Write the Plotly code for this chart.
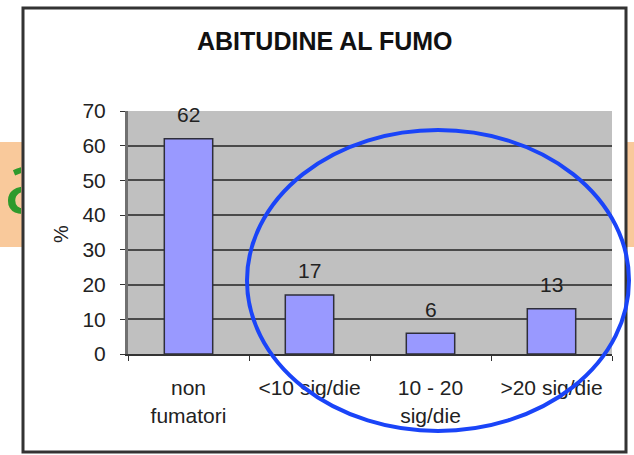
import plotly.graph_objects as go

# Chart data
categories = ["non<br>fumatori", "<10 sig/die", "10 - 20<br>sig/die", ">20 sig/die"]
percentages = [62, 17, 6, 13]
y_ticks = [0, 10, 20, 30, 40, 50, 60, 70]
chart_title = "ABITUDINE AL FUMO"
y_title = "%"

W, H = 634, 455
FONT = "Liberation Sans, Arial, sans-serif"


def px(x):
    return x / W


def py(y):
    return 1 - y / H


# plot-area bounds in pixels
L, R, T, B = 128, 612, 111, 354

fig = go.Figure()

fig.add_trace(go.Bar(
    x=categories,
    y=percentages,
    marker=dict(color="#9999FF", line=dict(color="#2e2e3a", width=1.5)),
    width=0.4,
    hoverinfo="skip",
))

# slide heading letter peeking out on the left, clipped to the margin strip
fig.add_trace(go.Scatter(
    x=[4], y=[H - 191],
    mode="text",
    text=["a"],
    textposition="middle right",
    textfont=dict(family="Open Sans, Liberation Sans, sans-serif", size=86, color="#2f9a2c"),
    cliponaxis=True,
    xaxis="x2", yaxis="y2",
    hoverinfo="skip",
    showlegend=False,
))

shapes = [
    # peach band behind the chart box
    dict(type="rect", xref="paper", yref="paper", layer="below",
         x0=0, x1=1, y0=py(247), y1=py(142),
         fillcolor="#f9c99b", line=dict(width=0)),
    # white chart box with dark frame
    dict(type="rect", xref="paper", yref="paper", layer="below",
         x0=px(23), x1=px(626), y0=py(452), y1=py(8),
         fillcolor="white", line=dict(color="#333333", width=3)),
    # grey plot wall
    dict(type="rect", xref="paper", yref="paper", layer="below",
         x0=px(L), x1=px(R), y0=py(B), y1=py(T),
         fillcolor="#c0c0c0", line=dict(width=0)),
    # highlight ellipse around the smokers' categories
    dict(type="circle", xref="paper", yref="paper", layer="above",
         x0=px(247), x1=px(629), y0=py(431), y1=py(130),
         line=dict(color="#1a44f8", width=4)),
]

annotations = [
    dict(text=f"<b>{chart_title}</b>", x=px(325), y=py(41), xref="paper", yref="paper",
         showarrow=False, xanchor="center", yanchor="middle",
         font=dict(family=FONT, size=25, color="#111111")),
    dict(text=y_title, x=px(61), y=py(234), xref="paper", yref="paper",
         showarrow=False, textangle=-90, xanchor="center", yanchor="middle",
         font=dict(family=FONT, size=20, color="#222222")),
]
for c, v in zip(categories, percentages):
    annotations.append(dict(
        text=str(v), x=c, y=v, xref="x", yref="y",
        showarrow=False, xanchor="center", yanchor="middle", yshift=24,
        font=dict(family=FONT, size=21, color="#222222"),
    ))

fig.update_layout(
    width=W, height=H,
    autosize=False,
    margin=dict(l=0, r=0, t=0, b=0),
    paper_bgcolor="white",
    plot_bgcolor="rgba(0,0,0,0)",
    showlegend=False,
    bargap=0.6,
    shapes=shapes,
    annotations=annotations,
    xaxis=dict(
        domain=[px(L), px(R)],
        range=[-0.5, 3.5],
        type="category",
        showgrid=False,
        showline=True, linecolor="#333333", linewidth=2,
        ticks="outside", tickson="boundaries", ticklen=5, tickcolor="#333333",
        tickfont=dict(family=FONT, size=21, color="#222222"),
        ticklabelstandoff=14,
        automargin=False,
        fixedrange=True,
    ),
    yaxis=dict(
        domain=[py(B), py(T)],
        range=[0, 70],
        tickvals=y_ticks,
        showgrid=True, gridcolor="#4a4a4a", gridwidth=2,
        showline=True, linecolor="#707070", linewidth=3,
        ticks="outside", ticklen=5, tickcolor="#333333",
        tickfont=dict(family=FONT, size=21, color="#222222"),
        ticklabelstandoff=10,
        zeroline=False,
        automargin=False,
        fixedrange=True,
    ),
    xaxis2=dict(domain=[0, px(21)], range=[0, 21], visible=False, anchor="y2", fixedrange=True),
    yaxis2=dict(domain=[py(247), py(142)], range=[H - 247, H - 142], visible=False, anchor="x2",
                fixedrange=True),
)

fig.write_html("out.html")
